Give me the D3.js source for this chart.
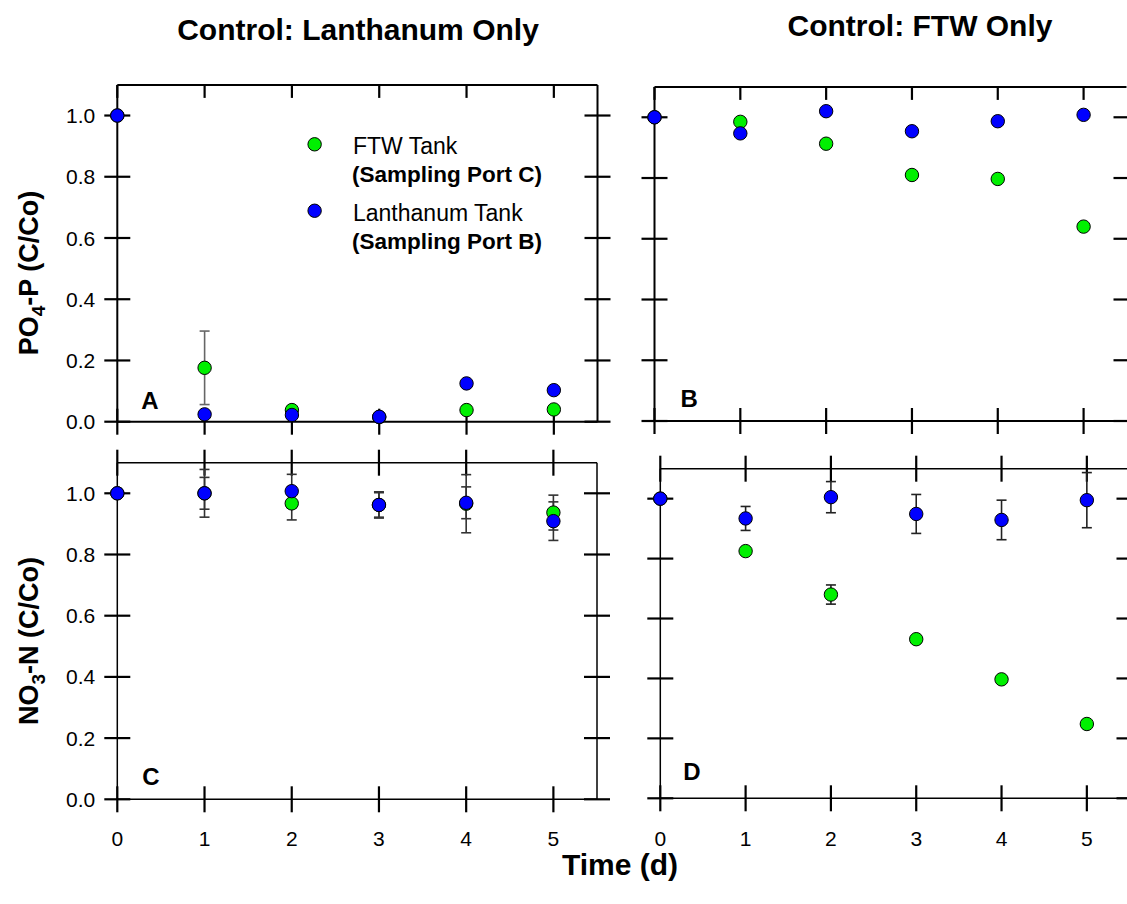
<!DOCTYPE html>
<html>
<head>
<meta charset="utf-8">
<script src="https://cdn.jsdelivr.net/npm/d3@7"></script>
<style>
  html, body { margin: 0; padding: 0; background: #fff; }
  svg { display: block; }
  text { font-family: "Liberation Sans", Arial, sans-serif; fill: #000; }
</style>
</head>
<body>
<svg id="chart" width="1127" height="904"></svg>
<script>
// ---------------- DATA ----------------
const days = [0, 1, 2, 3, 4, 5];
const yTickValues = [0, 0.2, 0.4, 0.6, 0.8, 1.0];
const xTickValues = [0, 1, 2, 3, 4, 5];
const columnTitles = ["Control: Lanthanum Only", "Control: FTW Only"];
const panelLetters = ["A", "B", "C", "D"];
const seriesNames = ["FTW Tank", "Lanthanum Tank"];
const seriesSubNames = ["(Sampling Port C)", "(Sampling Port B)"];

// Panel A: PO4-P, Lanthanum only control
const poLaOnlyFTW    = [1.0, 0.176, 0.038, 0.015, 0.038, 0.040];
const poLaOnlyFTWErr = [0, 0.120, 0.004, 0.010, 0, 0];
const poLaOnlyLa     = [1.0, 0.024, 0.022, 0.016, 0.125, 0.103];
const poLaOnlyLaErr  = [0, 0, 0, 0, 0, 0];
// Panel B: PO4-P, FTW only control
const poFtwOnlyFTW    = [1.0, 0.985, 0.913, 0.810, 0.797, 0.640];
const poFtwOnlyFTWErr = [0, 0, 0, 0, 0, 0];
const poFtwOnlyLa     = [1.0, 0.947, 1.020, 0.954, 0.987, 1.008];
const poFtwOnlyLaErr  = [0, 0, 0, 0, 0, 0];
// Panel C: NO3-N, Lanthanum only control
const noLaOnlyFTW    = [1.0, 1.000, 0.967, 0.962, 0.966, 0.937];
const noLaOnlyFTWErr = [0, 0.078, 0.054, 0.040, 0.095, 0.057];
const noLaOnlyLa     = [1.0, 1.000, 1.007, 0.962, 0.969, 0.909];
const noLaOnlyLaErr  = [0, 0.052, 0.055, 0.043, 0.052, 0.063];
// Panel D: NO3-N, FTW only control
const noFtwOnlyFTW    = [1.0, 0.825, 0.680, 0.531, 0.397, 0.248];
const noFtwOnlyFTWErr = [0, 0, 0.032, 0.010, 0, 0];
const noFtwOnlyLa     = [1.0, 0.934, 1.005, 0.949, 0.929, 0.995];
const noFtwOnlyLaErr  = [0, 0.040, 0.052, 0.065, 0.066, 0.092];

// ---------------- LAYOUT ----------------
const svg = d3.select("#chart");
const GREEN = "#00f000", BLUE = "#0000ff";
const R = 6.7;
const TICK = 13;

const panels = [
  { letter: panelLetters[0], xr: [117.3, 597.5], yr: [421.7, 84.9], frameW: 2, topIn: true,
    rightFrame: true, yLabels: true, xLabels: false,
    ftw: poLaOnlyFTW, ftwErr: poLaOnlyFTWErr, la: poLaOnlyLa, laErr: poLaOnlyLaErr, letterOff: [24, -13], errColor: "#666" },
  { letter: panelLetters[1], xr: [654.5, 1126.5], yr: [421.0, 86.9], frameW: 2, topIn: true,
    rightFrame: false, yLabels: false, xLabels: false,
    ftw: poFtwOnlyFTW, ftwErr: poFtwOnlyFTWErr, la: poFtwOnlyLa, laErr: poFtwOnlyLaErr, letterOff: [26, -14], errColor: "#666" },
  { letter: panelLetters[2], xr: [117.3, 597.0], yr: [799.3, 462.7], frameW: 1.5, topIn: false,
    rightFrame: true, yLabels: true, xLabels: true,
    ftw: noLaOnlyFTW, ftwErr: noLaOnlyFTWErr, la: noLaOnlyLa, laErr: noLaOnlyLaErr, letterOff: [25, -14], errColor: "#333" },
  { letter: panelLetters[3], xr: [660.3, 1129.5], yr: [798.3, 468.7], frameW: 1.5, topIn: false,
    rightFrame: false, yLabels: false, xLabels: true,
    ftw: noFtwOnlyFTW, ftwErr: noFtwOnlyFTWErr, la: noFtwOnlyLa, laErr: noFtwOnlyLaErr, letterOff: [23, -18], errColor: "#222" }
];

panels.forEach(p => {
  const x = d3.scaleLinear().domain([0, 5.5]).range(p.xr);
  const y = d3.scaleLinear().domain([0, 1.1]).range(p.yr);
  const g = svg.append("g");

  // frame lines
  const frame = g.append("g").attr("stroke", "#000").attr("stroke-width", p.frameW).attr("fill", "none");
  frame.append("line").attr("x1", x(0)).attr("x2", x(0)).attr("y1", y(0)).attr("y2", y(1.1));
  frame.append("line").attr("x1", x(0)).attr("x2", Math.min(x(5.5), 1127)).attr("y1", y(0)).attr("y2", y(0));
  frame.append("line").attr("x1", x(0)).attr("x2", Math.min(x(5.5), 1127)).attr("y1", y(1.1)).attr("y2", y(1.1));
  if (p.rightFrame) frame.append("line").attr("x1", x(5.5)).attr("x2", x(5.5)).attr("y1", y(0)).attr("y2", y(1.1));

  // ticks
  const ticks = g.append("g").attr("stroke", "#000").attr("stroke-width", 2.2);
  xTickValues.forEach(t => {
    ticks.append("line").attr("x1", x(t)).attr("x2", x(t)).attr("y1", y(0) - TICK).attr("y2", y(0) + TICK);
    if (p.topIn) ticks.append("line").attr("x1", x(t)).attr("x2", x(t)).attr("y1", y(1.1)).attr("y2", y(1.1) + TICK);
    else ticks.append("line").attr("x1", x(t)).attr("x2", x(t)).attr("y1", y(1.1) - TICK).attr("y2", y(1.1) + TICK);
  });
  yTickValues.forEach(v => {
    ticks.append("line").attr("x1", x(0) - TICK).attr("x2", x(0) + TICK).attr("y1", y(v)).attr("y2", y(v));
    ticks.append("line").attr("x1", x(5.5) - TICK).attr("x2", x(5.5) + TICK).attr("y1", y(v)).attr("y2", y(v));
  });

  // tick labels
  if (p.yLabels) {
    g.append("g").selectAll("text").data(yTickValues).join("text")
      .attr("x", x(0) - 22).attr("y", d => y(d)).attr("dy", "0.36em")
      .attr("text-anchor", "end").attr("font-size", 21)
      .text(d => d3.format(".1f")(d));
  }
  if (p.xLabels) {
    g.append("g").selectAll("text").data(xTickValues).join("text")
      .attr("x", d => x(d)).attr("y", 846)
      .attr("text-anchor", "middle").attr("font-size", 21)
      .text(d => d);
  }

  // series
  const series = [
    { vals: p.ftw, errs: p.ftwErr, color: GREEN },
    { vals: p.la, errs: p.laErr, color: BLUE }
  ];
  // error bars first
  series.forEach(s => {
    const eg = g.append("g").attr("stroke", p.errColor).attr("stroke-width", 1.6);
    days.forEach((d, i) => {
      const e = s.errs[i];
      if (!e) return;
      const cx = x(d), y1 = y(s.vals[i] + e), y2 = y(s.vals[i] - e);
      eg.append("line").attr("x1", cx).attr("x2", cx).attr("y1", y1).attr("y2", y2);
      eg.append("line").attr("x1", cx - 5).attr("x2", cx + 5).attr("y1", y1).attr("y2", y1);
      eg.append("line").attr("x1", cx - 5).attr("x2", cx + 5).attr("y1", y2).attr("y2", y2);
    });
  });
  series.forEach(s => {
    g.append("g").selectAll("circle").data(days).join("circle")
      .attr("cx", d => x(d)).attr("cy", (d, i) => y(s.vals[i])).attr("r", R)
      .attr("fill", s.color).attr("stroke", "#000").attr("stroke-width", 1);
  });

  // panel letter
  g.append("text").attr("x", x(0) + p.letterOff[0]).attr("y", y(0) + p.letterOff[1])
    .attr("font-size", 24).attr("font-weight", "bold").text(p.letter);

  p.x = x; p.y = y;
});

// legend in panel A
const pA = panels[0];
const legendY = [0.906, 0.689];
[GREEN, BLUE].forEach((c, i) => {
  svg.append("circle").attr("cx", pA.x(2.26)).attr("cy", pA.y(legendY[i])).attr("r", R)
    .attr("fill", c).attr("stroke", "#000").attr("stroke-width", 1);
  svg.append("text").attr("x", 353).attr("y", pA.y(legendY[i]) + 10)
    .attr("font-size", 23).text(seriesNames[i]);
  svg.append("text").attr("x", 352).attr("y", pA.y(legendY[i]) + 38)
    .attr("font-size", 22.5).attr("font-weight", "bold").text(seriesSubNames[i]);
});

// titles
svg.append("text").attr("x", 358).attr("y", 40).attr("text-anchor", "middle")
  .attr("font-size", 30).attr("font-weight", "bold").text(columnTitles[0]);
svg.append("text").attr("x", 920).attr("y", 36).attr("text-anchor", "middle")
  .attr("font-size", 30).attr("font-weight", "bold").text(columnTitles[1]);

// x axis title
svg.append("text").attr("x", 620).attr("y", 875).attr("text-anchor", "middle")
  .attr("font-size", 30).attr("font-weight", "bold").text("Time (d)");

// y axis titles
function yTitle(cy, main, sub, rest) {
  const t = svg.append("text").attr("transform", `translate(38,${cy}) rotate(-90)`)
    .attr("text-anchor", "middle").attr("font-size", 27).attr("font-weight", "bold");
  t.append("tspan").text(main);
  t.append("tspan").attr("font-size", 19).attr("dy", 7).text(sub);
  t.append("tspan").attr("dy", -7).text(rest);
}
yTitle(273, "PO", "4", "-P (C/Co)");
yTitle(641, "NO", "3", "-N (C/Co)");
</script>
</body>
</html>
